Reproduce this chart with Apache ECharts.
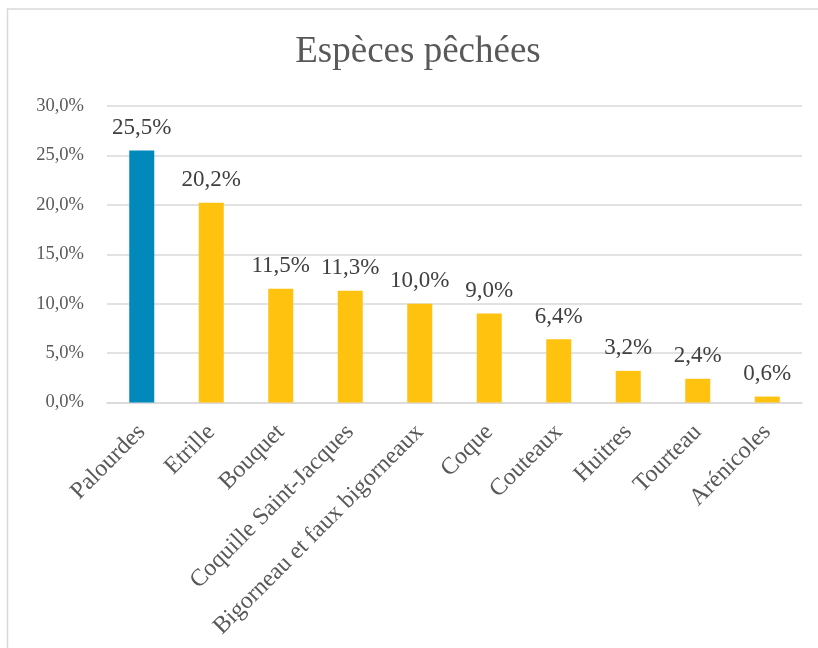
<!DOCTYPE html>
<html>
<head>
<meta charset="utf-8">
<style>
  html, body { margin: 0; padding: 0; background: #ffffff; }
  #chart { width: 818px; height: 648px; }
</style>
<script src="https://cdn.jsdelivr.net/npm/echarts@6/dist/echarts.min.js"></script>
</head>
<body>
<div id="chart"></div>
<script>
// Species caught, share of total catch (%)
const species = ['Palourdes', 'Etrille', 'Bouquet', 'Coquille Saint-Jacques',
  'Bigorneau et faux bigorneaux', 'Coque', 'Couteaux', 'Huitres', 'Tourteau', 'Arénicoles'];
const shares = [25.5, 20.2, 11.5, 11.3, 10.0, 9.0, 6.4, 3.2, 2.4, 0.6];
const highlightIndex = 0;

const SERIF = '"Liberation Serif", "Times New Roman", "DejaVu Serif", serif';
const pct = v => v.toFixed(1).replace('.', ',') + '%';

const chart = echarts.init(document.getElementById('chart'));
chart.setOption({
  backgroundColor: '#ffffff',
  animation: false,
  graphic: [{
    type: 'rect',
    shape: { x: 7.5, y: 9, width: 900, height: 800 },
    style: { fill: 'none', stroke: '#d9d9d9', lineWidth: 1.5 },
    silent: true
  }, {
    type: 'text',
    x: 418,
    y: 34,
    style: {
      text: 'Espèces pêchées',
      textAlign: 'center',
      textVerticalAlign: 'top',
      fontFamily: SERIF,
      fontSize: 37,
      fill: '#595959'
    },
    silent: true
  }],
  grid: { left: 107, right: 16, top: 106, bottom: 245.5, containLabel: false },
  xAxis: {
    type: 'category',
    data: species,
    axisTick: { show: false },
    axisLine: { lineStyle: { color: '#d9d9d9', width: 1.5 } },
    axisLabel: {
      rotate: 45,
      interval: 0,
      margin: 26,
      fontFamily: SERIF,
      fontSize: 24,
      color: '#595959'
    }
  },
  yAxis: {
    type: 'value',
    min: 0,
    max: 30,
    interval: 5,
    axisLine: { show: false },
    axisTick: { show: false },
    splitLine: { lineStyle: { color: '#d9d9d9', width: 1.5 } },
    axisLabel: {
      margin: 23,
      fontFamily: SERIF,
      fontSize: 18.5,
      color: '#595959',
      formatter: v => pct(v)
    }
  },
  series: [{
    type: 'bar',
    barWidth: 25,
    data: shares.map((v, i) => ({
      value: v,
      itemStyle: { color: i === highlightIndex ? '#0089BA' : '#FFC20E' }
    })),
    label: {
      show: true,
      position: 'top',
      distance: 11,
      fontFamily: SERIF,
      fontSize: 23,
      color: '#404040',
      formatter: p => pct(p.value)
    }
  }]
});
</script>
</body>
</html>
